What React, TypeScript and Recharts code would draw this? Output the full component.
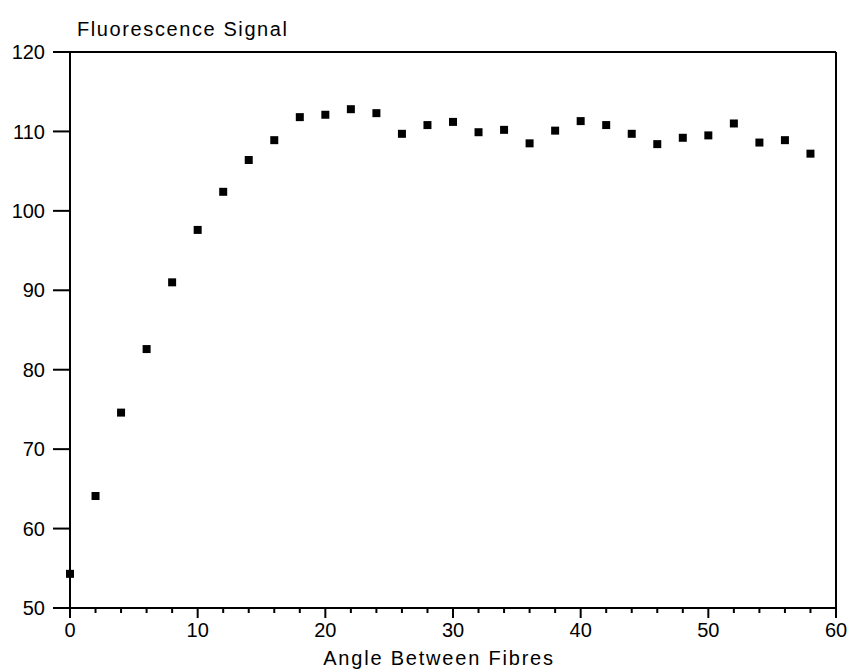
import React from 'react';
import { ScatterChart, Scatter, XAxis, YAxis, ZAxis, ReferenceLine, Label } from 'recharts';

const angles = [0, 2, 4, 6, 8, 10, 12, 14, 16, 18, 20, 22, 24, 26, 28, 30, 32, 34, 36, 38, 40, 42, 44, 46, 48, 50, 52, 54, 56, 58];
const signal = [54.3, 64.1, 74.6, 82.6, 91.0, 97.6, 102.4, 106.4, 108.9, 111.8, 112.1, 112.8, 112.3, 109.7, 110.8, 111.2, 109.9, 110.2, 108.5, 110.1, 111.3, 110.8, 109.7, 108.4, 109.2, 109.5, 111.0, 108.6, 108.9, 107.2];
const xTicks = [0, 2, 4, 6, 8, 10, 12, 14, 16, 18, 20, 22, 24, 26, 28, 30, 32, 34, 36, 38, 40, 42, 44, 46, 48, 50, 52, 54, 56, 58, 60];
const yTicks = [50, 60, 70, 80, 90, 100, 110, 120];
const xTitle = 'Angle Between Fibres';
const yTitle = 'Fluorescence Signal';

const data = angles.map((a, i) => ({ x: a, y: signal[i] }));

const FONT = '"Liberation Sans", Arial, sans-serif';

const XTick = (props: any) => {
  const { x, y, payload } = props;
  const major = payload.value % 10 === 0;
  return (
    <g>
      <line x1={x} x2={x} y1={y} y2={y + (major ? 10 : 5)} stroke="#000" strokeWidth={2} />
      {major && (
        <text x={x} y={y + 29} textAnchor="middle" fontSize={20} fontFamily={FONT} fill="#000">
          {payload.value}
        </text>
      )}
    </g>
  );
};

const YTitle = (props: any) => {
  const vb = props.viewBox || {};
  return (
    <text x={vb.x + vb.width + 7} y={vb.y - 16} fontSize={20} fontFamily={FONT} fill="#000" letterSpacing={1.6}>
      {yTitle}
    </text>
  );
};

export default function App() {
  return (
    <div style={{ position: 'absolute', left: 0, top: 0, background: '#fff' }}>
      <ScatterChart width={853} height={669} margin={{ top: 52, right: 17, bottom: 0, left: 0 }}>
        <XAxis
          type="number"
          dataKey="x"
          domain={[0, 60]}
          ticks={xTicks}
          interval={0}
          height={61}
          axisLine={{ stroke: '#000', strokeWidth: 2 }}
          tickLine={false}
          tickSize={0}
          tickMargin={0}
          tick={<XTick />}
        >
          <Label
            value={xTitle}
            position="insideBottom"
            offset={4}
            dx={-14}
            fontSize={20}
            fontFamily={FONT}
            fill="#000"
            letterSpacing={1.8}
          />
        </XAxis>
        <YAxis
          type="number"
          dataKey="y"
          domain={[50, 120]}
          ticks={yTicks}
          interval={0}
          width={70}
          axisLine={{ stroke: '#000', strokeWidth: 2 }}
          tickLine={{ stroke: '#000', strokeWidth: 2 }}
          tickSize={17}
          tickMargin={8}
          tick={{ fill: '#000', fontSize: 20, fontFamily: FONT }}
        >
          <Label content={<YTitle />} />
        </YAxis>
        <ZAxis range={[49, 49]} />
        <ReferenceLine y={120} stroke="#000" strokeWidth={2} />
        <ReferenceLine x={60} stroke="#000" strokeWidth={2} />
        <Scatter data={data} fill="#000" shape="square" isAnimationActive={false} />
      </ScatterChart>
    </div>
  );
}
